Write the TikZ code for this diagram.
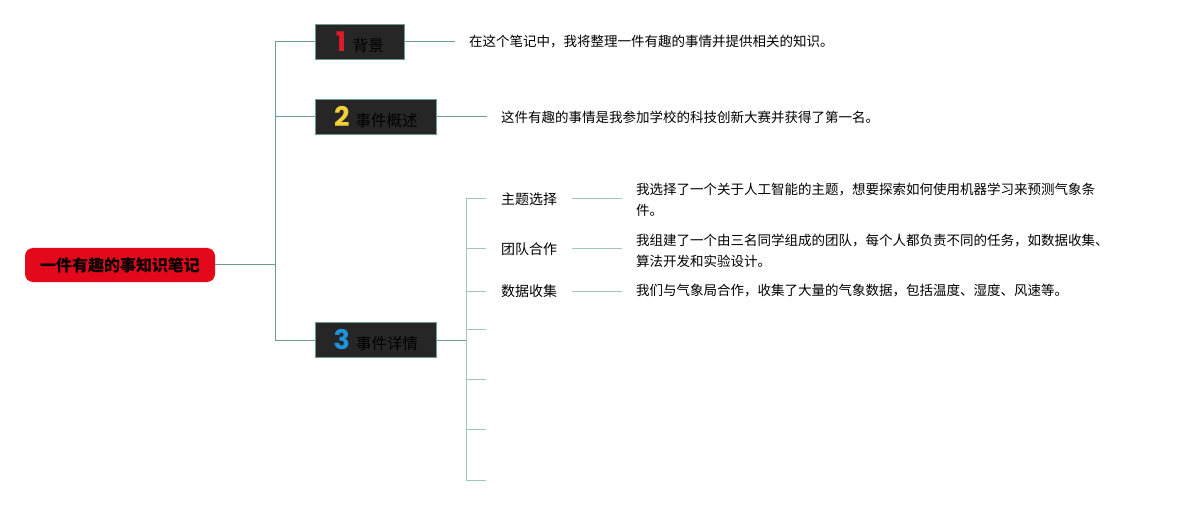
\documentclass[tikz,border=0pt]{standalone}
\usepackage{fontspec}
\setmainfont{Noto Sans CJK SC}
\newfontfamily\numfont{Poppins}
\definecolor{rootred}{HTML}{E3081A}
\definecolor{boxfill}{HTML}{262626}
\definecolor{linkcol}{HTML}{6C9C90}
\definecolor{sublinkcol}{HTML}{A3C6BB}
\definecolor{numred}{HTML}{E01A2C}
\definecolor{numyellow}{HTML}{F2D03B}
\definecolor{numblue}{HTML}{1E93DC}
\tikzset{
  rootbox/.style={fill=rootred, rounded corners=8pt, minimum width=190pt, minimum height=34pt, inner sep=0pt, font=\fontsize{16}{18}\selectfont\bfseries},
  topicbox/.style={draw=linkcol, fill=boxfill, line width=0.8pt, minimum height=35pt, inner sep=0pt, anchor=west, text=black, font=\fontsize{15.5}{18}\selectfont},
  leaf/.style={anchor=west, inner xsep=14pt, inner ysep=0pt, align=left, font=\fontsize{13.5}{21}\selectfont},
  sublabel/.style={anchor=west, inner xsep=15pt, inner ysep=0pt, font=\fontsize{14}{18}\selectfont},
  link/.style={draw=linkcol, line width=1pt},
  sublink/.style={draw=sublinkcol, line width=1pt}
}
\newcommand{\bignum}[2]{{\numfont\fontsize{27}{27}\selectfont\bfseries\color{#1}#2}}
\begin{document}
\begin{tikzpicture}[x=1pt,y=-1pt]
\useasboundingbox (0,0) rectangle (1197,505);
% root
\node[rootbox] (root) at (120,265) {一件有趣的事知识笔记};
\coordinate (trunk) at (275,265);
% topics
\node[topicbox, minimum width=89pt] (bg) at (315,42) {\bignum{numred}{1}\hspace{7pt}背景};
\node[topicbox, minimum width=121pt] (sum) at (315,117) {\bignum{numyellow}{2}\hspace{6pt}事件概述};
\node[topicbox, minimum width=121pt] (det) at (315,340) {\bignum{numblue}{3}\hspace{6pt}事件详情};
\draw[link] (root.east) -- (trunk) |- (bg.west);
\draw[link] (trunk) |- (sum.west);
\draw[link] (trunk) |- (det.west);
% leaves of the first two
\node[leaf] (bgtxt) at (455,42) {在这个笔记中，我将整理一件有趣的事情并提供相关的知识。};
\node[leaf] (sumtxt) at (487,117) {这件有趣的事情是我参加学校的科技创新大赛并获得了第一名。};
\draw[link] (bg.east) -- (bgtxt.west);
\draw[link] (sum.east) -- (sumtxt.west);
% details
\coordinate (sub) at (466,340);
\node[sublabel] (topic) at (486,199) {主题选择};
\node[sublabel] (team) at (486,249) {团队合作};
\node[sublabel] (data) at (486,291) {数据收集};
\coordinate (e4) at (486,329);
\coordinate (e5) at (486,379);
\coordinate (e6) at (486,429);
\coordinate (e7) at (486,480);
\draw[link] (det.east) -- (sub);
\draw[sublink] (sub) |- (topic.west);
\draw[sublink] (sub) |- (team.west);
\draw[sublink] (sub) |- (data.west);
\draw[sublink] (sub) |- (e4);
\draw[sublink] (sub) |- (e5);
\draw[sublink] (sub) |- (e6);
\draw[sublink] (sub) |- (e7);
\node[leaf] (topictxt) at (622,200) {我选择了一个关于人工智能的主题，想要探索如何使用机器学习来预测气象条\\件。};
\node[leaf] (teamtxt) at (622,251) {我组建了一个由三名同学组成的团队，每个人都负责不同的任务，如数据收集、\\算法开发和实验设计。};
\node[leaf] (datatxt) at (622,291) {我们与气象局合作，收集了大量的气象数据，包括温度、湿度、风速等。};
\draw[sublink] (topic.east) -- (topic.east -| topictxt.west);
\draw[sublink] (team.east) -- (team.east -| teamtxt.west);
\draw[sublink] (data.east) -- (datatxt.west);
\end{tikzpicture}
\end{document}
